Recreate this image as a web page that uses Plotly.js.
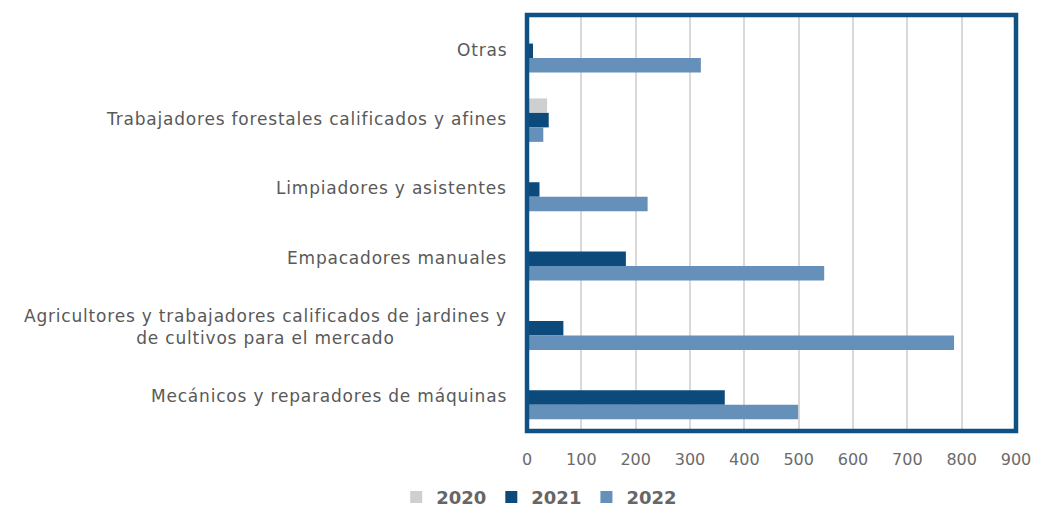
<!DOCTYPE html>
<html>
<head>
<meta charset="utf-8">
<script src="https://cdn.plot.ly/plotly-3.0.1.min.js"></script>
<style>
html,body{margin:0;padding:0;background:#fff;}
#chart{width:1047px;height:511px;}
.annotation-text{letter-spacing:0.8px;}
</style>
</head>
<body>
<div id="chart"></div>
<script>
const categories = [
  "Otras",
  "Trabajadores forestales calificados y afines",
  "Limpiadores y asistentes",
  "Empacadores manuales",
  "Agricultores y trabajadores calificados de jardines y<br>de cultivos para el mercado",
  "Mecánicos y reparadores de máquinas"
];
const years = ["2020", "2021", "2022"];
const values2020 = [0, 37, 0, 0, 0, 0];
const values2021 = [11, 40, 23, 182, 67, 364];
const values2022 = [320, 30, 222, 547, 786, 499];
const xTicks = [0, 100, 200, 300, 400, 500, 600, 700, 800, 900];

const colors = ["#cfcfcf", "#0c4a7b", "#6490ba"];
const series = [values2020, values2021, values2022];
const offsets = [-0.297, -0.088, 0.121];

const traces = series.map((vals, i) => ({
  type: "bar",
  orientation: "h",
  name: years[i],
  y: categories,
  x: vals,
  width: 0.209,
  offset: offsets[i],
  marker: {color: colors[i], line: {width: 0}},
  hoverinfo: "x+name"
}));

const annotations = categories.map(c => ({
  xref: "paper", yref: "y", x: 0, y: c, xanchor: "right", yanchor: "middle",
  xshift: -18, align: "center", showarrow: false, text: c,
  font: {family: "DejaVu Sans, sans-serif", size: 17, color: "#595959"}
}));

const layout = {
  width: 1047, height: 511,
  margin: {l: 527, r: 31, t: 15, b: 80},
  paper_bgcolor: "#ffffff", plot_bgcolor: "#ffffff",
  barmode: "overlay",
  showlegend: true,
  legend: {
    orientation: "h", xref: "container", yref: "container",
    x: 0.515, y: 0.027, xanchor: "center", yanchor: "middle",
    font: {family: "DejaVu Sans, sans-serif", size: 18, color: "#666666", weight: "bold"},
    itemwidth: 30, tracegroupgap: 0, itemclick: false
  },
  xaxis: {
    range: [0, 900], tickvals: xTicks, ticktext: xTicks.map(String),
    showgrid: true, gridcolor: "#d9d9d9", gridwidth: 1.5,
    zeroline: false, showline: false,
    ticks: "outside", ticklen: 10, tickcolor: "rgba(0,0,0,0)", ticklabelstandoff: 4,
    tickfont: {family: "DejaVu Sans, sans-serif", size: 16, color: "#6b6b6b"},
    fixedrange: true
  },
  yaxis: {
    type: "category", categoryorder: "array", categoryarray: categories,
    autorange: "reversed",
    showticklabels: false, showgrid: false, zeroline: false, showline: false,
    ticks: "", fixedrange: true
  },
  shapes: [{
    type: "rect", xref: "paper", yref: "paper", x0: 0, x1: 1, y0: 0, y1: 1,
    line: {color: "#0f5183", width: 4.5}, fillcolor: "rgba(0,0,0,0)", layer: "above"
  }],
  annotations: annotations
};

Plotly.newPlot("chart", traces, layout, {displayModeBar: false});
</script>
</body>
</html>
